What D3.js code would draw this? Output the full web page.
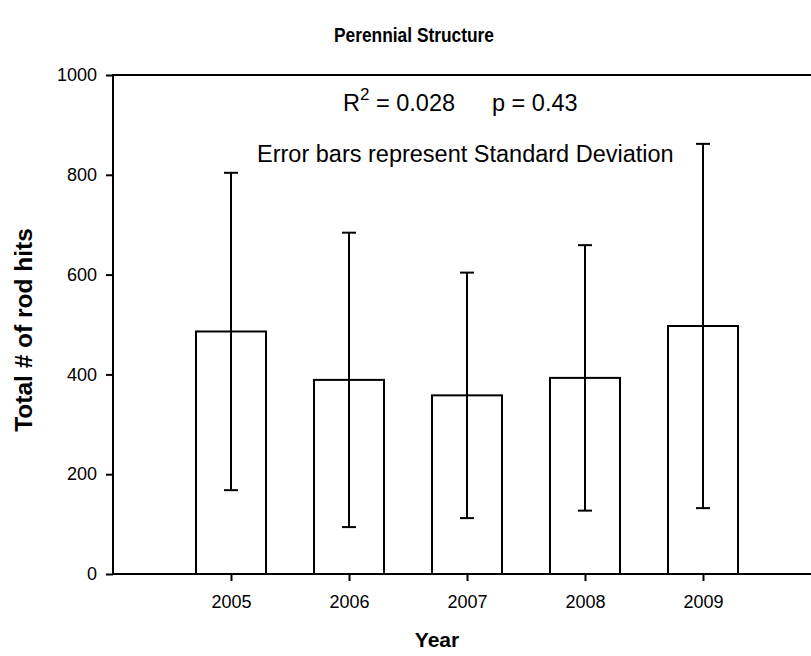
<!DOCTYPE html>
<html>
<head>
<meta charset="utf-8">
<script src="https://cdn.jsdelivr.net/npm/d3@7/dist/d3.min.js"></script>
<style>
  body { margin: 0; background: #fff; }
  text { font-family: Arial, "Liberation Sans", sans-serif; fill: #000; }
</style>
</head>
<body>
<div id="chart"></div>
<script>
var years = [2005, 2006, 2007, 2008, 2009];
var meanHits = [486, 389, 358, 393, 497];
var sdHits = [318, 295, 246, 266, 365];
var yTicks = [0, 200, 400, 600, 800, 1000];

var width = 811, height = 656;

var svg = d3.select('#chart').append('svg')
  .attr('width', width)
  .attr('height', height);

var x = d3.scaleLinear().domain([2004, 2010]).range([113, 821]);
var y = d3.scaleLinear().domain([0, 1000]).range([574, 75]);

var barW = 70, capW = 14;

// frame (left, top, bottom) - right side falls off the page
svg.append('path')
  .attr('d', 'M' + x(2010) + ',' + y(1000) + 'H' + x(2004) + 'V' + y(0) + 'H' + x(2010))
  .attr('fill', 'none')
  .attr('stroke', '#000')
  .attr('stroke-width', 2);

// bars
svg.selectAll('rect.bar')
  .data(years)
  .enter().append('rect')
  .attr('class', 'bar')
  .attr('x', function(d) { return x(d) - barW / 2; })
  .attr('y', function(d, i) { return y(meanHits[i]); })
  .attr('width', barW)
  .attr('height', function(d, i) { return y(0) - y(meanHits[i]); })
  .attr('fill', '#fff')
  .attr('stroke', '#000')
  .attr('stroke-width', 2);

// error bars (standard deviation)
var err = svg.selectAll('g.err')
  .data(years)
  .enter().append('g')
  .attr('class', 'err')
  .attr('stroke', '#000')
  .attr('stroke-width', 2);

err.append('line')
  .attr('x1', function(d) { return x(d); })
  .attr('x2', function(d) { return x(d); })
  .attr('y1', function(d, i) { return y(meanHits[i] - sdHits[i]); })
  .attr('y2', function(d, i) { return y(meanHits[i] + sdHits[i]); });
err.append('line')
  .attr('x1', function(d) { return x(d) - capW / 2; })
  .attr('x2', function(d) { return x(d) + capW / 2; })
  .attr('y1', function(d, i) { return y(meanHits[i] + sdHits[i]); })
  .attr('y2', function(d, i) { return y(meanHits[i] + sdHits[i]); });
err.append('line')
  .attr('x1', function(d) { return x(d) - capW / 2; })
  .attr('x2', function(d) { return x(d) + capW / 2; })
  .attr('y1', function(d, i) { return y(meanHits[i] - sdHits[i]); })
  .attr('y2', function(d, i) { return y(meanHits[i] - sdHits[i]); });

// axes
var yAxis = svg.append('g')
  .attr('transform', 'translate(' + x(2004) + ',0)')
  .call(d3.axisLeft(y).tickValues(yTicks).tickSize(7).tickPadding(9).tickFormat(d3.format('d')));
var xAxis = svg.append('g')
  .attr('transform', 'translate(0,' + y(0) + ')')
  .call(d3.axisBottom(x).tickValues(years).tickSize(7).tickPadding(14).tickFormat(d3.format('d')));

[yAxis, xAxis].forEach(function(a) {
  a.select('.domain').remove();
  a.selectAll('line').attr('stroke', '#000').attr('stroke-width', 2);
  a.selectAll('text').style('font-size', '18px').attr('fill', '#000');
});

// title and axis labels
svg.append('text')
  .attr('x', 334).attr('y', 42)
  .attr('textLength', 160).attr('lengthAdjust', 'spacingAndGlyphs')
  .style('font-size', '21px').style('font-weight', 'bold')
  .text('Perennial Structure');

svg.append('text')
  .attr('transform', 'translate(32,330) rotate(-90)')
  .attr('text-anchor', 'middle')
  .style('font-size', '24.5px').style('font-weight', 'bold')
  .text('Total # of rod hits');

svg.append('text')
  .attr('x', 437).attr('y', 647)
  .attr('text-anchor', 'middle')
  .style('font-size', '21px').style('font-weight', 'bold')
  .text('Year');

// annotations
var r2 = svg.append('text')
  .attr('x', 343).attr('y', 111)
  .style('font-size', '23.5px');
r2.append('tspan').text('R');
r2.append('tspan').attr('dy', -11).style('font-size', '17px').text('2');
r2.append('tspan').attr('dy', 11).text(' = 0.028');
r2.append('tspan').attr('x', 492).text('p = 0.43');

svg.append('text')
  .attr('x', 257).attr('y', 162)
  .style('font-size', '23.5px')
  .text('Error bars represent Standard Deviation');
</script>
</body>
</html>
